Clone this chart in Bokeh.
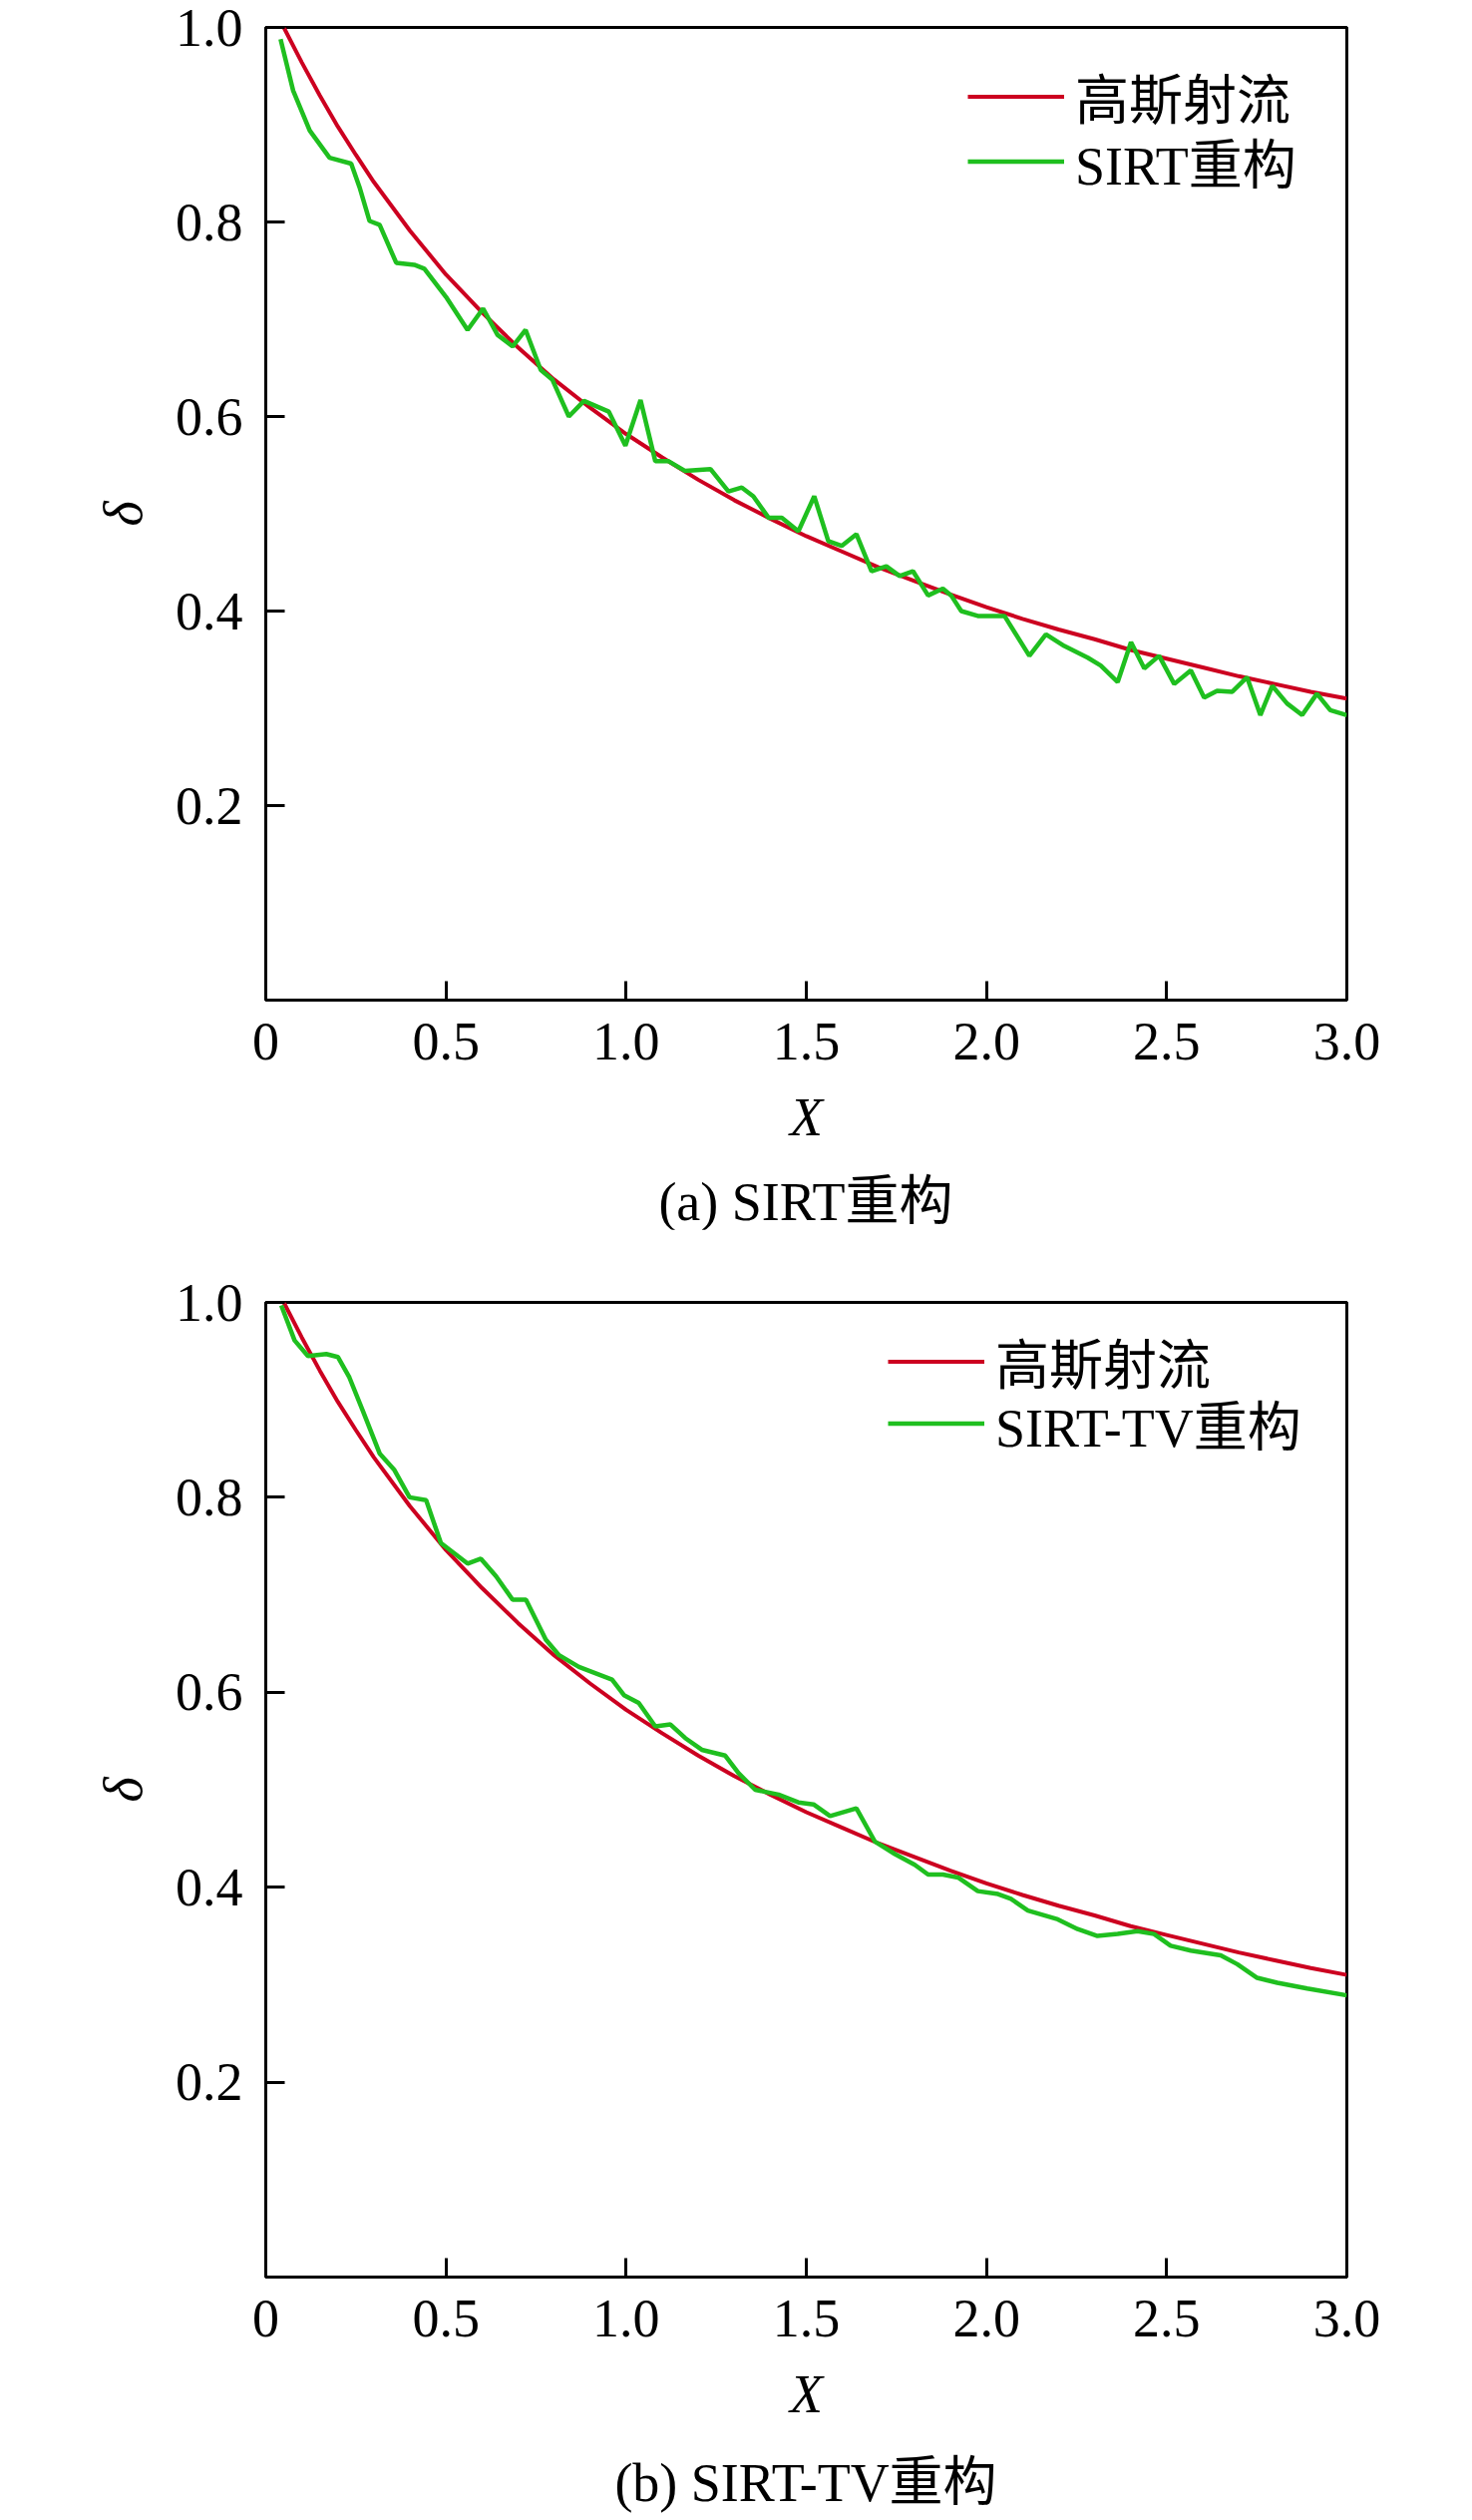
from bokeh.plotting import figure
from bokeh.layouts import column
from bokeh.models import FixedTicker, Legend, LegendItem, Div
from bokeh.embed import file_html
from bokeh.resources import INLINE

# ---------------- data ----------------
x_ticks = [0, 0.5, 1.0, 1.5, 2.0, 2.5, 3.0]
x_tick_labels = ["0", "0.5", "1.0", "1.5", "2.0", "2.5", "3.0"]
y_ticks = [0.2, 0.4, 0.6, 0.8, 1.0]
y_tick_labels = ["0.2", "0.4", "0.6", "0.8", "1.0"]

# Gaussian jet (reference curve), same in both panels
gauss_x = [0.05, 0.10, 0.15, 0.20, 0.25, 0.30, 0.40, 0.50, 0.60, 0.70, 0.80, 0.90,
           1.00, 1.10, 1.20, 1.30, 1.40, 1.50, 1.60, 1.70, 1.80, 1.90, 2.00, 2.10,
           2.20, 2.30, 2.40, 2.50, 2.60, 2.70, 2.80, 2.90, 3.00]
gauss_y = [1.000, 0.964, 0.930, 0.898, 0.869, 0.841, 0.791, 0.746, 0.707, 0.671, 0.638, 0.609,
           0.582, 0.558, 0.535, 0.514, 0.495, 0.477, 0.461, 0.445, 0.431, 0.417, 0.404, 0.392,
           0.381, 0.371, 0.360, 0.351, 0.342, 0.333, 0.325, 0.317, 0.310]

# (a) SIRT reconstruction
sirt_x = [0.041, 0.076, 0.122, 0.177, 0.237, 0.260, 0.288, 0.316, 0.362, 0.412, 0.440, 0.500,
          0.560, 0.603, 0.643, 0.685, 0.721, 0.763, 0.795, 0.841, 0.883, 0.952, 0.998, 1.040,
          1.081, 1.118, 1.164, 1.234, 1.284, 1.321, 1.353, 1.395, 1.432, 1.478, 1.522, 1.561,
          1.598, 1.639, 1.681, 1.722, 1.759, 1.796, 1.838, 1.879, 1.902, 1.930, 1.976, 2.050,
          2.119, 2.165, 2.216, 2.281, 2.317, 2.364, 2.401, 2.438, 2.479, 2.521, 2.567, 2.604,
          2.640, 2.682, 2.723, 2.760, 2.793, 2.834, 2.876, 2.917, 2.954, 3.000]
sirt_y = [0.988, 0.935, 0.894, 0.866, 0.860, 0.836, 0.801, 0.797, 0.758, 0.756, 0.752, 0.723,
          0.689, 0.711, 0.684, 0.672, 0.689, 0.648, 0.638, 0.600, 0.616, 0.605, 0.570, 0.617,
          0.554, 0.554, 0.544, 0.546, 0.523, 0.527, 0.518, 0.496, 0.496, 0.482, 0.518, 0.472,
          0.467, 0.479, 0.441, 0.446, 0.436, 0.441, 0.416, 0.423, 0.416, 0.400, 0.395, 0.395,
          0.354, 0.376, 0.364, 0.352, 0.344, 0.327, 0.368, 0.341, 0.354, 0.325, 0.339, 0.311,
          0.318, 0.317, 0.332, 0.293, 0.323, 0.305, 0.293, 0.315, 0.298, 0.293]

# (b) SIRT-TV reconstruction
tv_x = [0.043, 0.080, 0.117, 0.168, 0.200, 0.232, 0.269, 0.316, 0.357, 0.399, 0.445, 0.486,
        0.560, 0.597, 0.639, 0.685, 0.722, 0.777, 0.814, 0.869, 0.961, 0.994, 1.035, 1.081,
        1.123, 1.164, 1.210, 1.275, 1.312, 1.358, 1.423, 1.478, 1.520, 1.566, 1.639, 1.690,
        1.746, 1.801, 1.838, 1.879, 1.921, 1.976, 2.032, 2.068, 2.115, 2.198, 2.253, 2.308,
        2.364, 2.419, 2.465, 2.511, 2.567, 2.650, 2.696, 2.751, 2.807, 2.890, 3.000]
tv_y = [0.997, 0.961, 0.945, 0.947, 0.944, 0.923, 0.889, 0.845, 0.828, 0.800, 0.797, 0.753,
        0.732, 0.737, 0.719, 0.695, 0.695, 0.654, 0.638, 0.626, 0.613, 0.597, 0.589, 0.565,
        0.567, 0.553, 0.541, 0.535, 0.517, 0.500, 0.495, 0.487, 0.485, 0.473, 0.481, 0.447,
        0.434, 0.423, 0.413, 0.413, 0.410, 0.396, 0.393, 0.388, 0.376, 0.367, 0.357, 0.350,
        0.352, 0.355, 0.352, 0.340, 0.335, 0.330, 0.321, 0.307, 0.302, 0.296, 0.289]

FONT = "Liberation Serif, Noto Sans CJK SC"
FS = "54px"
RED = "#cc0020"
GREEN = "#1fbf1f"


def make_legend(label, renderer, loc):
    lg = Legend(items=[LegendItem(label=label, renderers=[renderer])], location=loc)
    lg.border_line_color = None
    lg.background_fill_alpha = 0
    lg.label_text_font = FONT
    lg.label_text_font_size = FS
    lg.label_text_color = "black"
    lg.glyph_width = 97
    lg.glyph_height = 61
    lg.label_height = 61
    lg.label_standoff = 11
    lg.spacing = 0
    lg.padding = 0
    lg.margin = 0
    return lg


def make_panel(height, top_border, bottom_border, green_x, green_y, green_label,
               leg_x, leg_y_red, leg_y_green):
    p = figure(width=1468, height=height, x_range=(0, 3.0), y_range=(0, 1.0),
               output_backend="svg", toolbar_location=None,
               min_border_left=266, min_border_right=118, min_border_top=top_border,
               min_border_bottom=bottom_border)
    p.grid.visible = False
    p.background_fill_color = "white"
    p.border_fill_color = "white"
    p.outline_line_color = "black"
    p.outline_line_width = 3
    p.outline_line_alpha = 1.0

    r_red = p.line(gauss_x, gauss_y, line_color=RED, line_width=4)
    r_green = p.line(green_x, green_y, line_color=GREEN, line_width=4.5)

    p.xaxis.ticker = FixedTicker(ticks=x_ticks)
    p.xaxis.major_label_overrides = {t: s for t, s in zip(x_ticks, x_tick_labels)}
    p.yaxis.ticker = FixedTicker(ticks=y_ticks)
    p.yaxis.major_label_overrides = {t: s for t, s in zip(y_ticks, y_tick_labels)}

    for ax in (p.xaxis, p.yaxis):
        ax.axis_line_width = 3
        ax.axis_line_color = "black"
        ax.major_tick_line_width = 3
        ax.major_tick_line_color = "black"
        ax.major_tick_in = 19
        ax.major_tick_out = 0
        ax.minor_tick_line_color = None
        ax.major_label_text_font = FONT
        ax.major_label_text_font_size = FS
        ax.major_label_text_color = "black"
        ax.axis_label_text_font = FONT
        ax.axis_label_text_font_size = FS
        ax.axis_label_text_font_style = "italic"
        ax.axis_label_text_color = "black"

    p.xaxis.axis_label = "X"
    p.xaxis.major_label_standoff = 23
    p.xaxis.axis_label_standoff = 25
    p.yaxis.axis_label = "δ"
    p.yaxis.major_label_standoff = 23
    p.yaxis.axis_label_standoff = 19

    p.add_layout(make_legend("高斯射流", r_red, (leg_x, leg_y_red)))
    p.add_layout(make_legend(green_label, r_green, (leg_x, leg_y_green)))
    return p


def make_caption(text):
    return Div(text=text, width=1084, height=54, margin=(0, 0, 0, 266),
               styles={"text-align": "center", "font-size": "54px", "line-height": "54px",
                       "font-family": "'Liberation Serif', 'Noto Sans CJK SC', serif",
                       "color": "black", "white-space": "nowrap"})


p1 = make_panel(1178, 27, 176, sirt_x, sirt_y, "SIRT重构", 704, 866, 801)
cap1 = make_caption("(a) SIRT重构")
p2 = make_panel(1230, 73, 180, tv_x, tv_y, "SIRT-TV重构", 624, 878, 816)
cap2 = make_caption("(b) SIRT-TV重构")

layout = column(p1, cap1, p2, cap2, spacing=0)
open("out.html", "w").write(file_html(layout, INLINE))
